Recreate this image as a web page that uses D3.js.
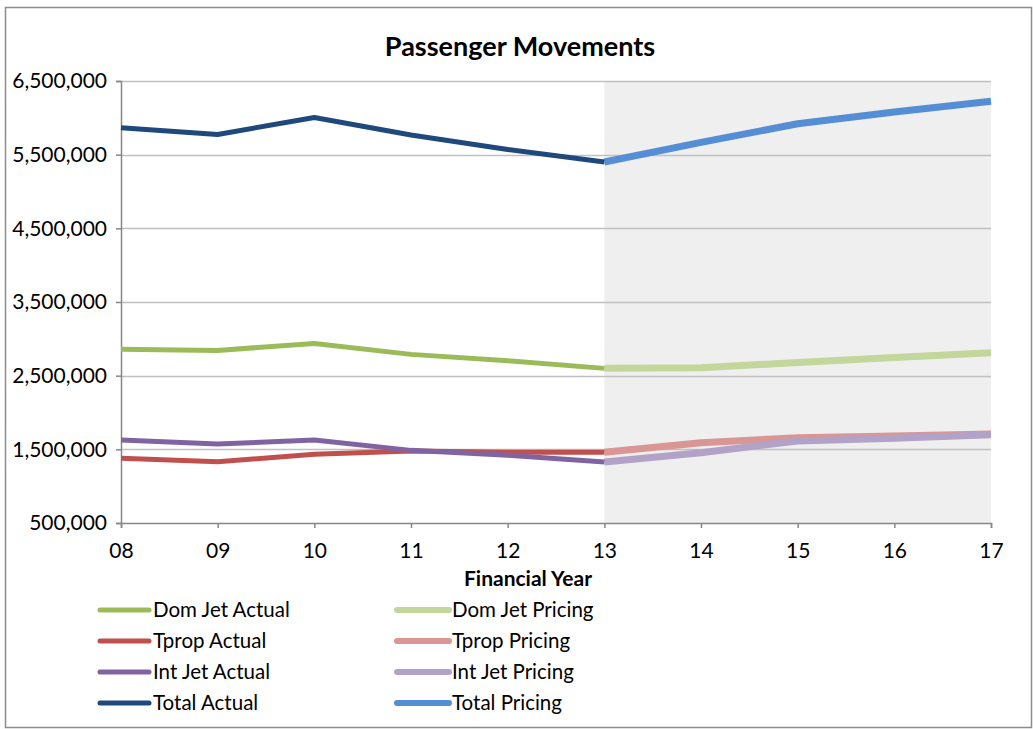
<!DOCTYPE html>
<html>
<head>
<meta charset="utf-8">
<script src="https://cdn.jsdelivr.net/npm/d3@7"></script>
<style>
  body { margin: 0; background: #fff; }
  svg { display: block; }
  text { font-family: Lato, "Liberation Sans", sans-serif; fill: #000; }
</style>
</head>
<body>
<div id="chart"></div>
<script>
    "use strict";

    // Data
    var years = ["08", "09", "10", "11", "12", "13", "14", "15", "16", "17"];
    var actualYears = ["08", "09", "10", "11", "12", "13"];
    var pricingYears = ["13", "14", "15", "16", "17"];

    var domJetActual = [2857000, 2843000, 2938000, 2789000, 2702000, 2599000];
    var domJetPricing = [2599000, 2607000, 2680000, 2748000, 2810000];
    var tpropActual = [1378000, 1332000, 1432000, 1477000, 1460000, 1460000];
    var tpropPricing = [1460000, 1590000, 1657000, 1680000, 1708000];
    var intJetActual = [1626000, 1572000, 1626000, 1486000, 1420000, 1328000];
    var intJetPricing = [1328000, 1454000, 1613000, 1649000, 1698000];
    var totalActual = [5864000, 5774000, 6005000, 5766000, 5571000, 5400000];
    var totalPricing = [5400000, 5666000, 5920000, 6080000, 6226000];

    var yTicks = [500000, 1500000, 2500000, 3500000, 4500000, 5500000, 6500000];

    var series = [
        { name: "Dom Jet Actual", x: actualYears, v: domJetActual, color: "#9bbb59", w: 5, col: 0, row: 0 },
        { name: "Tprop Actual", x: actualYears, v: tpropActual, color: "#c0504d", w: 5, col: 0, row: 1 },
        { name: "Int Jet Actual", x: actualYears, v: intJetActual, color: "#8064a2", w: 5, col: 0, row: 2 },
        { name: "Total Actual", x: actualYears, v: totalActual, color: "#1f497d", w: 5, col: 0, row: 3 },
        { name: "Dom Jet Pricing", x: pricingYears, v: domJetPricing, color: "#c3d69b", w: 7, col: 1, row: 0 },
        { name: "Tprop Pricing", x: pricingYears, v: tpropPricing, color: "#d99694", w: 7, col: 1, row: 1 },
        { name: "Int Jet Pricing", x: pricingYears, v: intJetPricing, color: "#b3a2c7", w: 7, col: 1, row: 2 },
        { name: "Total Pricing", x: pricingYears, v: totalPricing, color: "#558ed5", w: 7, col: 1, row: 3 }
    ];

    // drawing order: pricing first, then actual on top
    var drawOrder = [4, 5, 6, 7, 0, 1, 2, 3];

    (function () {
        var width = 1033, height = 729;
        var left = 121, right = 991, plotTop = 81, plotBottom = 523;

        var svg = d3.select("#chart").append("svg")
            .attr("width", width)
            .attr("height", height);

        svg.append("rect")
            .attr("x", 5.5).attr("y", 7.5)
            .attr("width", 1026).attr("height", 720)
            .attr("fill", "#fff")
            .attr("stroke", "#8c8c8c")
            .attr("stroke-width", 1.5);

        var x = d3.scalePoint().domain(years).range([left, right]);
        var y = d3.scaleLinear().domain([500000, 6500000]).range([plotBottom, plotTop]);

        // shaded forecast area
        svg.append("rect")
            .attr("x", x("13"))
            .attr("y", y(6500000))
            .attr("width", x("17") - x("13"))
            .attr("height", y(500000) - y(6500000))
            .attr("fill", "#efefef");

        // gridlines
        svg.append("g")
            .selectAll("line")
            .data(yTicks.slice(1))
            .join("line")
            .attr("x1", left).attr("x2", right)
            .attr("y1", function (d) { return Math.round(y(d)) + 0.5; })
            .attr("y2", function (d) { return Math.round(y(d)) + 0.5; })
            .attr("stroke", "#c0c0c0")
            .attr("stroke-width", 1.5);

        // axes
        var fmt = d3.format(",");
        var yAxis = svg.append("g")
            .attr("transform", "translate(" + left + ",0)")
            .call(d3.axisLeft(y).tickValues(yTicks).tickFormat(fmt).tickSize(5).tickPadding(9));
        yAxis.select(".domain").attr("stroke", "#868686").attr("stroke-width", 1.5);
        yAxis.selectAll(".tick line").attr("stroke", "#868686").attr("stroke-width", 1.5);
        yAxis.selectAll(".tick text").style("font-size", "21px");

        var xAxis = svg.append("g")
            .attr("transform", "translate(0," + plotBottom + ")")
            .call(d3.axisBottom(x).tickSize(5).tickPadding(15));
        xAxis.select(".domain").attr("stroke", "#868686").attr("stroke-width", 1.5);
        xAxis.selectAll(".tick line").attr("stroke", "#868686").attr("stroke-width", 1.5);
        xAxis.selectAll(".tick text").style("font-size", "21px");

        // lines
        var line = d3.line()
            .x(function (d) { return x(d[0]); })
            .y(function (d) { return y(d[1]); });

        svg.append("g")
            .selectAll("path")
            .data(drawOrder.map(function (i) { return series[i]; }))
            .join("path")
            .attr("d", function (s) { return line(d3.zip(s.x, s.v)); })
            .attr("fill", "none")
            .attr("stroke", function (s) { return s.color; })
            .attr("stroke-width", function (s) { return s.w; })
            .attr("stroke-linejoin", "round");

        // titles
        svg.append("text")
            .attr("x", 520).attr("y", 56)
            .attr("text-anchor", "middle")
            .style("font-size", "27px")
            .style("font-weight", "bold")
            .text("Passenger Movements");

        svg.append("text")
            .attr("x", 528).attr("y", 586)
            .attr("text-anchor", "middle")
            .style("font-size", "21px")
            .style("font-weight", "bold")
            .text("Financial Year");

        // legend
        var colX = [98, 395];
        var rowY = [610, 641, 672, 703];
        var lg = svg.append("g")
            .selectAll("g")
            .data(series)
            .join("g")
            .attr("transform", function (s) { return "translate(" + colX[s.col] + "," + rowY[s.row] + ")"; });
        lg.append("line")
            .attr("x1", 2).attr("x2", function (s) { return s.col ? 54 : 51; })
            .attr("y1", 0).attr("y2", 0)
            .attr("stroke", function (s) { return s.color; })
            .attr("stroke-width", function (s) { return s.col ? 6 : 5; })
            .attr("stroke-linecap", "round");
        lg.append("text")
            .attr("x", function (s) { return s.col ? 57 : 55; })
            .attr("dy", "0.35em")
            .style("font-size", "20.5px")
            .text(function (s) { return s.name; });
    })();
</script>
</body>
</html>
